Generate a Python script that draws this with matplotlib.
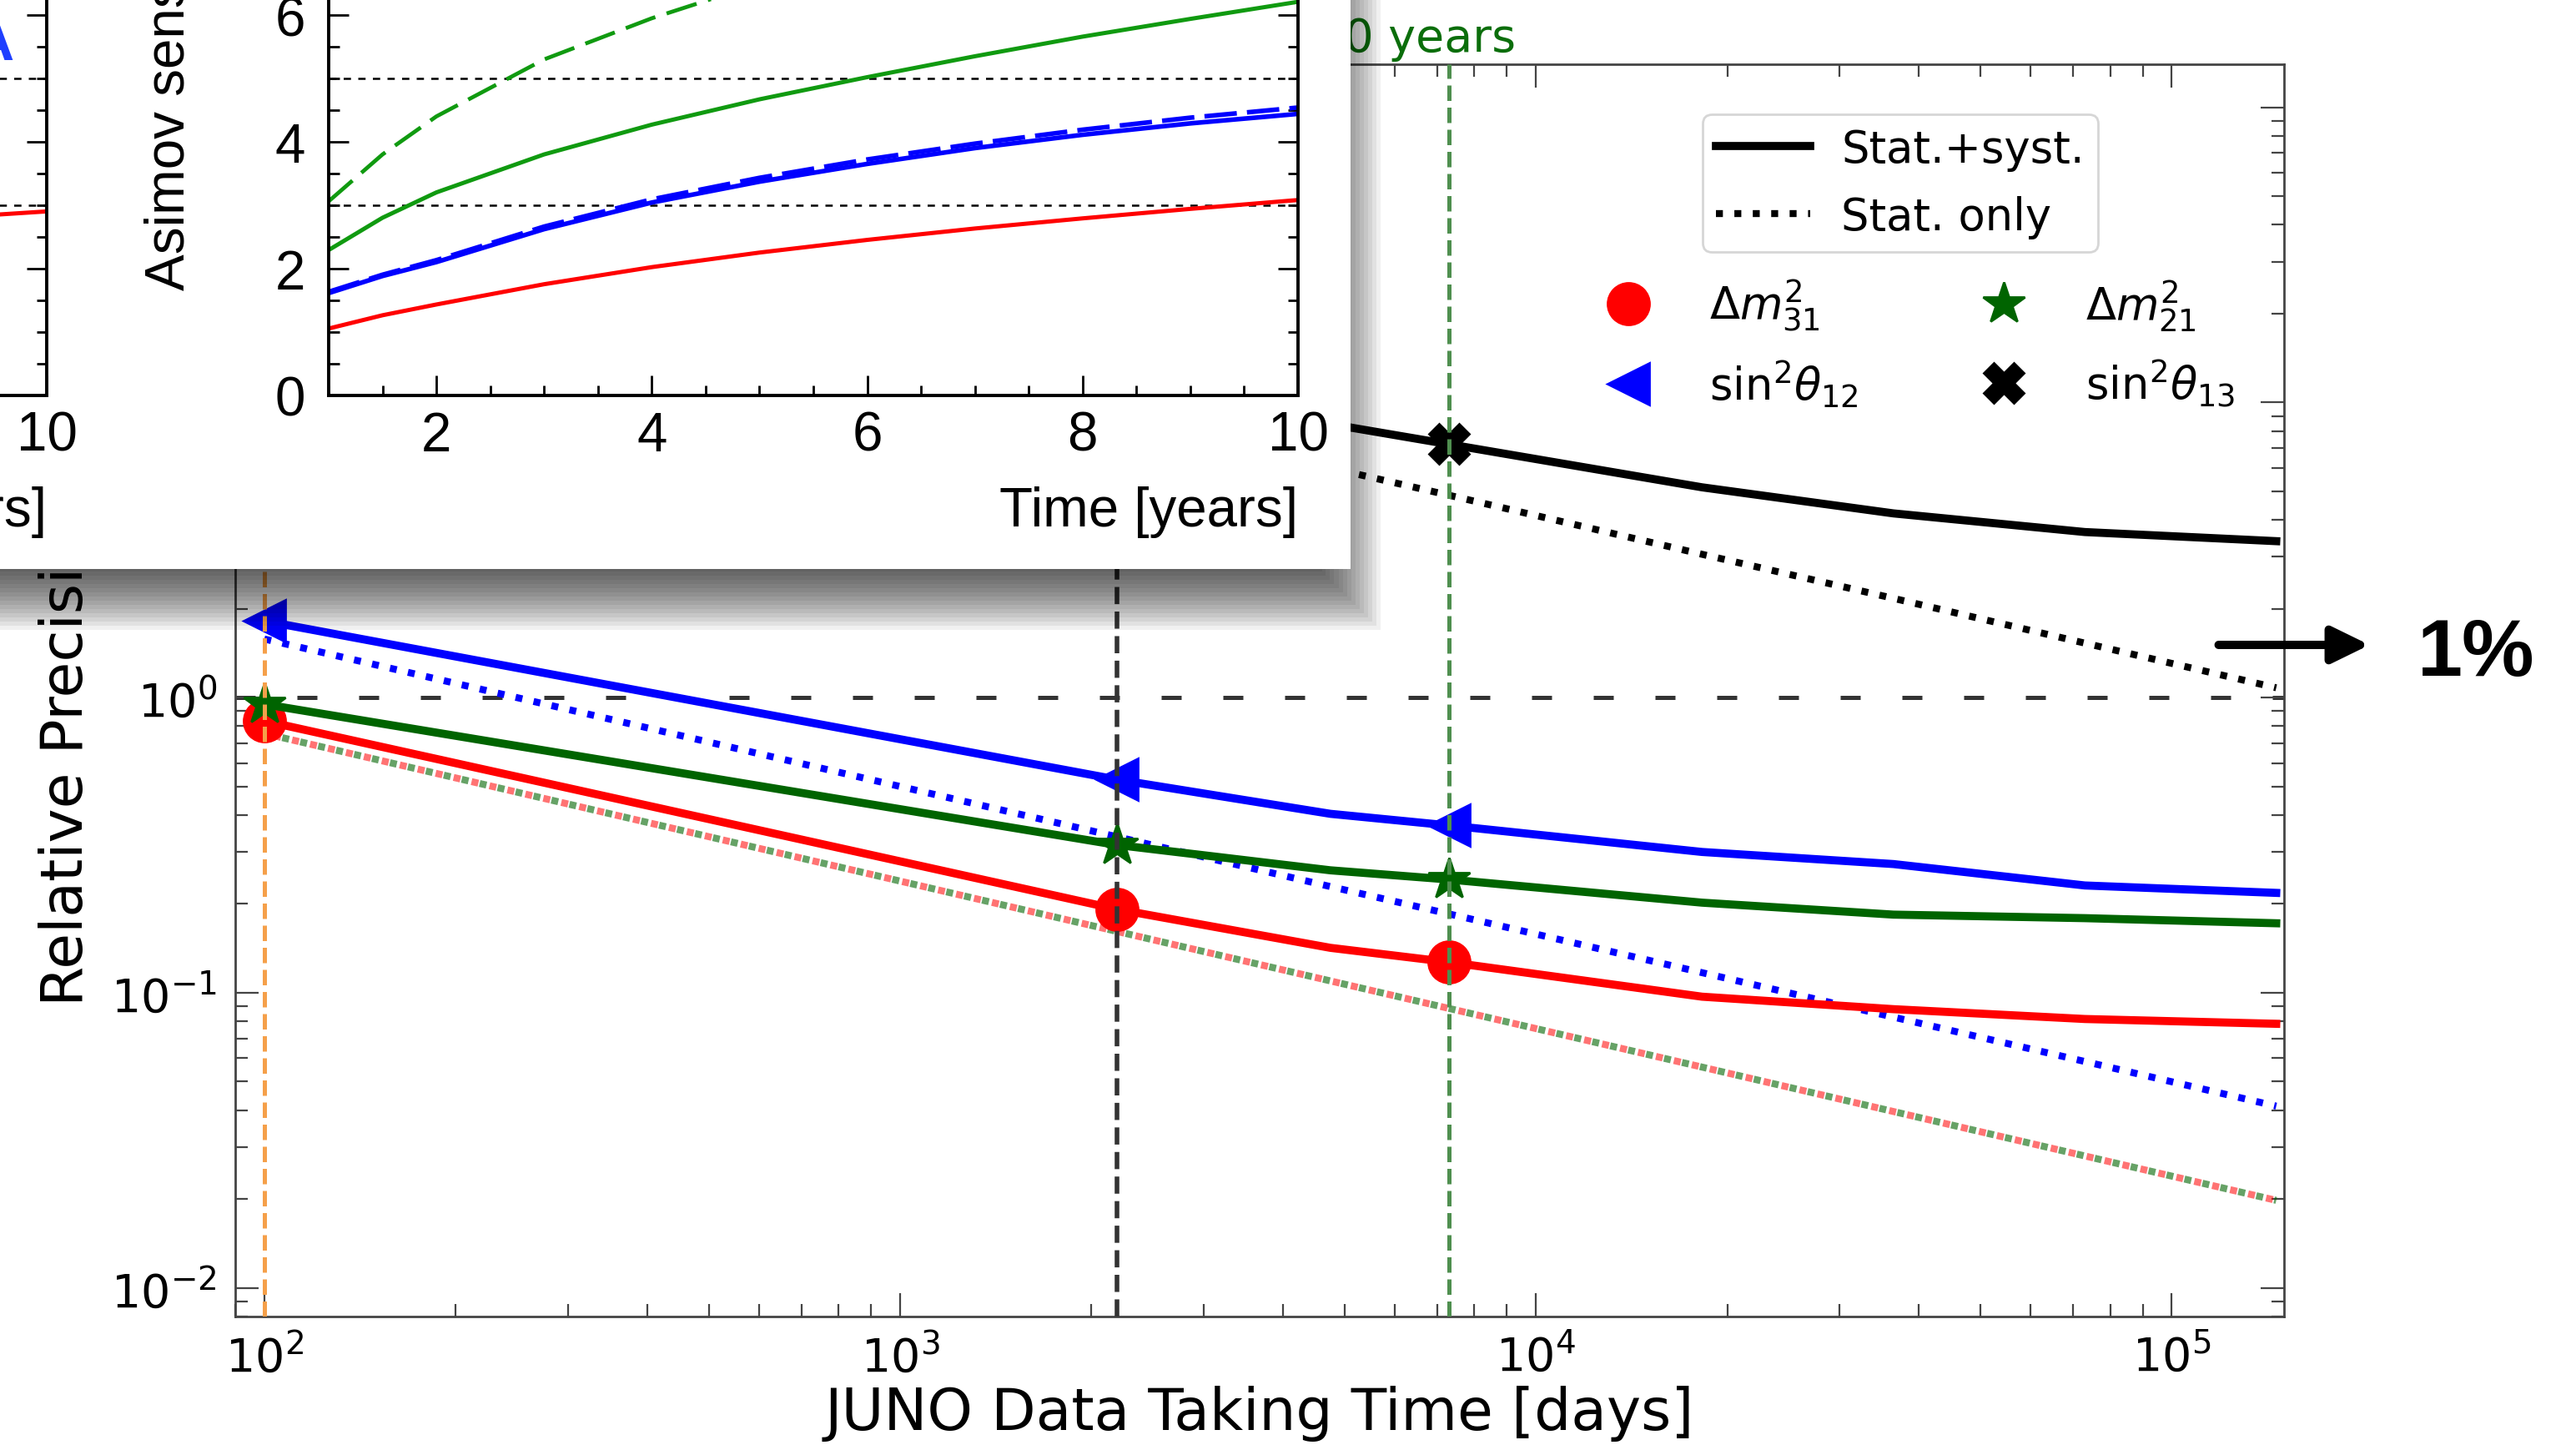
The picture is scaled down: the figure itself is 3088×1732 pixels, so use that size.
import matplotlib
matplotlib.use("Agg")
import matplotlib.pyplot as plt
from matplotlib.lines import Line2D
from matplotlib.patches import Rectangle, FancyArrowPatch
from matplotlib.ticker import MultipleLocator, LogLocator, NullFormatter

plt.rcParams["font.family"] = "DejaVu Sans"
plt.rcParams["mathtext.fontset"] = "dejavusans"

# main plot: relative precision [%] vs JUNO data taking time [days]
days = [100, 2190, 4750, 7300, 18250, 36500, 73000, 146000]
dm31_syst = [0.834, 0.192, 0.142, 0.127, 0.097, 0.088, 0.0815, 0.0785]
dm21_syst = [0.95, 0.317, 0.26, 0.242, 0.202, 0.184, 0.179, 0.172]
s12_syst = [1.82, 0.528, 0.404, 0.369, 0.30, 0.273, 0.231, 0.218]
dm31_stat = [0.756, 0.1615, 0.1097, 0.0885, 0.056, 0.0396, 0.028, 0.0198]
dm21_stat = [0.756, 0.1615, 0.1097, 0.0885, 0.056, 0.0396, 0.028, 0.0198]
s12_stat = [1.58, 0.338, 0.229, 0.185, 0.117, 0.0827, 0.0585, 0.0413]
s13_stat = [41.4, 8.85, 6.0, 4.85, 3.06, 2.17, 1.53, 1.08]
days_s13 = [4750, 7300, 18250, 36500, 73000, 146000]
s13_syst = [8.45, 7.22, 5.16, 4.21, 3.64, 3.39]
marker_days = [100, 2190, 7300]  # 100 days, 6 years, 20 years

# inset (pasted plot): Asimov sensitivity vs time [years]
years = [1, 1.5, 2, 3, 4, 5, 6, 7, 8, 9, 10]
red_sens = [1.05, 1.26, 1.43, 1.75, 2.02, 2.25, 2.45, 2.63, 2.79, 2.94, 3.08]
blue_sens = [1.61, 1.88, 2.1, 2.62, 3.04, 3.37, 3.65, 3.9, 4.11, 4.29, 4.44]
blue_sens_dash = [1.63, 1.9, 2.13, 2.66, 3.09, 3.43, 3.72, 3.97, 4.19, 4.38, 4.54]
green_sens = [2.29, 2.8, 3.2, 3.8, 4.27, 4.67, 5.02, 5.35, 5.66, 5.94, 6.21]
years_gd = [1, 1.5, 2, 3, 4, 5, 6, 7]
green_sens_dash = [3.06, 3.8, 4.4, 5.3, 5.95, 6.5, 7.0, 7.45]
left_years = [8, 9, 10]
left_red = [2.66, 2.79, 2.9]

W, H = 3088, 1733
fig = plt.figure(figsize=(W / 200, H / 200), dpi=200)


def fx(px):
    return px / W


def fy(py):
    return 1 - py / H


# ---------------- main log-log plot ----------------
ax = fig.add_axes([fx(282), fy(1579), (2737.6 - 282) / W, (1579 - 78) / H])
ax.set_xscale("log")
ax.set_yscale("log")
mk = [days.index(d) for d in marker_days]

ax.axhline(1, color="#333333", lw=1.8, dashes=(4.8, 10), zorder=1)
ax.plot(days, dm21_stat, color="darkgreen", alpha=0.6, lw=3, ls=":", zorder=2)
ax.plot(days, dm31_stat, color="red", alpha=0.55, lw=3, ls=(1.2, (1, 1.65)), zorder=2)
ax.plot(days, s12_stat, color="blue", lw=3, ls=":", zorder=2)
ax.plot(days, s13_stat, color="black", lw=3, ls=":", zorder=2)

ax.plot(days, dm31_syst, color="red", lw=3.5, marker="o", ms=18, markevery=mk, zorder=3)
ax.plot(days, dm21_syst, color="darkgreen", lw=3.5, marker="*", ms=19, markevery=mk, zorder=3)
ax.plot(days, s12_syst, color="blue", lw=3.5, marker="<", ms=18, markevery=mk, zorder=3)
ax.plot(days_s13, s13_syst, color="black", lw=3.5, marker="X", ms=17,
        markevery=[days_s13.index(7300)], zorder=3)

ax.axvline(100, color="#f5a04a", lw=1.8, ls="--", zorder=4)
ax.axvline(2190, color="#333333", lw=2.0, ls="--", zorder=4)
ax.axvline(7300, color="#4f8f4f", lw=1.8, ls="--", zorder=4)

ax.set_xlim(90, 1.5e5)
ax.set_ylim(0.008, 140)
ax.yaxis.set_minor_locator(LogLocator(base=10, subs=range(2, 10), numticks=20))
ax.yaxis.set_minor_formatter(NullFormatter())
ax.xaxis.set_minor_locator(LogLocator(base=10, subs=range(2, 10), numticks=20))
ax.xaxis.set_minor_formatter(NullFormatter())
ax.tick_params(which="both", direction="in", top=True, right=True, color="#444444",
               width=0.8, labelsize=20)
ax.tick_params(which="major", length=10)
ax.tick_params(which="minor", length=5.5)
ax.tick_params(axis="x", pad=7.5)
ax.tick_params(axis="y", pad=8)
for s in ax.spines.values():
    s.set_color("#444444")
    s.set_linewidth(1.0)

ax.set_xlabel("JUNO Data Taking Time [days]", fontsize=25)
ax.xaxis.set_label_coords(0.5, -0.0546)
ax.set_ylabel("Relative Precision [%]", fontsize=25)
ax.yaxis.set_label_coords(-0.069, 0.5)

h1 = [Line2D([], [], color="black", lw=3.5), Line2D([], [], color="black", lw=3, ls=":")]
leg1 = ax.legend(h1, ["Stat.+syst.", "Stat. only"], loc="upper left",
                 bbox_to_anchor=(fx(2041), fy(138)), bbox_transform=fig.transFigure,
                 fontsize=19, borderaxespad=0, borderpad=0.3, handlelength=2.15,
                 handletextpad=0.7, labelspacing=0.55)
ax.add_artist(leg1)

h2 = [Line2D([], [], color="red", marker="o", ms=18, ls="none"),
      Line2D([], [], color="blue", marker="<", ms=18, ls="none"),
      Line2D([], [], color="darkgreen", marker="*", ms=19, ls="none"),
      Line2D([], [], color="black", marker="X", ms=17, ls="none")]
labels2 = [r"$\Delta m^2_{31}$", r"$\mathrm{sin}^2\theta_{12}$",
           r"$\Delta m^2_{21}$", r"$\mathrm{sin}^2\theta_{13}$"]
ax.legend(h2, labels2, ncol=2, loc="upper left", bbox_to_anchor=(fx(1899), fy(333)),
          bbox_transform=fig.transFigure, frameon=False, fontsize=19, borderaxespad=0,
          borderpad=0, handlelength=2.0, handletextpad=0.85, columnspacing=2.3,
          labelspacing=0.55)

fig.text(fx(1817), fy(62), "20 years", color="#0b6e0b", fontsize=20, ha="right",
         va="baseline", zorder=1)

# 1% annotation on the right
fig.add_artist(FancyArrowPatch((fx(2654), fy(774)), (fx(2846), fy(774)),
                               transform=fig.transFigure,
                               arrowstyle="-|>,head_length=0.45,head_width=0.22",
                               mutation_scale=30, lw=3.6, color="black", zorder=5))
fig.text(fx(2898), fy(810), "1%", fontsize=35, fontweight="bold",
         family="Liberation Sans", ha="left", va="baseline")

# ---------------- pasted inset panel with shadow ----------------
pr, pb = 1619, 683
n = 20
for k in range(n):
    e = -50 + 100 * (k + 0.5) / n
    fig.add_artist(Rectangle((fx(-200), fy(pb + 25 + e)), (pr - 12 + e + 200) / W,
                             (pb + 25 + e + 200) / H, transform=fig.transFigure,
                             facecolor="black", alpha=0.058, lw=0, zorder=2))
fig.add_artist(Rectangle((fx(-10), fy(pb)), (pr + 10) / W, (pb + 10) / H,
                         transform=fig.transFigure, facecolor="white", lw=0, zorder=3))

fig.text(fx(17), fy(72), "A", color="#1f3fff", fontsize=25, fontweight="bold",
         family="Liberation Sans", ha="right", va="baseline", zorder=6)

ax_h = 7 * 75.9


def root_axes(left_px, z):
    a = fig.add_axes([fx(left_px), fy(474.5), 1162 / W, ax_h / H], zorder=z)
    a.set_facecolor("none")
    a.set_xlim(1, 10)
    a.set_ylim(0, 7)
    a.xaxis.set_major_locator(MultipleLocator(2))
    a.xaxis.set_minor_locator(MultipleLocator(0.5))
    a.yaxis.set_major_locator(MultipleLocator(2))
    a.yaxis.set_minor_locator(MultipleLocator(0.5))
    a.tick_params(which="both", direction="in", top=True, right=True, width=1.0,
                  color="black", labelsize=23.6, labelfontfamily="Liberation Sans")
    a.tick_params(which="major", length=8.8)
    a.tick_params(which="minor", length=4.5)
    a.tick_params(axis="x", pad=6.5)
    a.tick_params(axis="y", pad=10)
    for s in a.spines.values():
        s.set_linewidth(1.4)
    a.axhline(3, color="black", lw=0.9, dashes=(3.5, 3.5))
    a.axhline(5, color="black", lw=0.9, dashes=(3.5, 3.5))
    a.text(1.0, -0.2626, "Time [years]", transform=a.transAxes, ha="right", va="center",
           fontsize=23.6, family="Liberation Sans")
    a.text(-0.1635, 0.238, "Asimov sensitivity", transform=a.transAxes, rotation=90,
           rotation_mode="anchor", ha="left", va="center", fontsize=23.6,
           family="Liberation Sans", clip_on=False)
    return a


ax_left = root_axes(56 - 1162, 4)
ax_left.plot(left_years, left_red, color="red", lw=1.8)

ax_in = root_axes(394, 5)
ax_in.plot(years_gd, green_sens_dash, color="#109a10", lw=1.7, dashes=(8, 3))
ax_in.plot(years, green_sens, color="#109a10", lw=1.8)
ax_in.plot(years, blue_sens_dash, color="blue", lw=2.0, dashes=(7, 2.2))
ax_in.plot(years, blue_sens, color="blue", lw=2.0)
ax_in.plot(years, red_sens, color="red", lw=1.8)

fig.savefig("out.png", dpi=200, facecolor="white")
